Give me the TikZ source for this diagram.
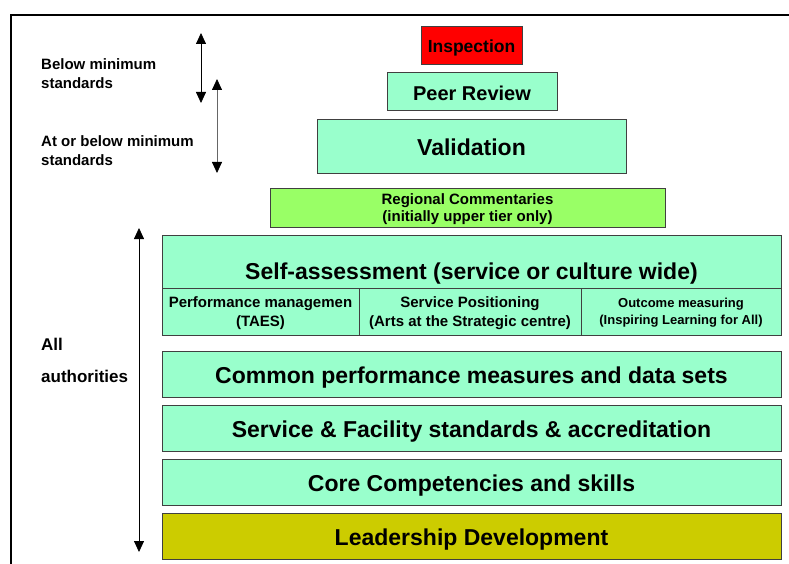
\documentclass[tikz,border=0pt]{standalone}
\usepackage{fontspec}
\setmainfont{Liberation Sans}
\usetikzlibrary{arrows.meta}

\definecolor{mint}{HTML}{99FFCC}
\definecolor{limegreen}{HTML}{99FF66}
\definecolor{leadyellow}{HTML}{CCCC00}
\definecolor{boxline}{HTML}{404040}

\newcommand{\fsz}[2]{\fontsize{#1pt}{#2pt}\selectfont}

\tikzset{
	tier/.style={draw=boxline, fill=mint, line width=0.9pt, inner sep=0pt,
		minimum width=619pt, minimum height=46pt, align=center,
		text height=18.4pt, text depth=0pt,
		font=\bfseries\fsz{23}{27}},
	subtier/.style={tier, minimum height=47pt, text height=, text depth=-9pt,
		font=\bfseries\fsz{15}{19}},
	lefttext/.style={anchor=west, align=left, inner sep=0pt, font=\bfseries\fsz{15}{19}},
	span/.style={line width=0.8pt, {Triangle[width=10pt,length=11pt]}-{Triangle[width=10pt,length=11pt]}}
}

\begin{document}
\begin{tikzpicture}[x=1pt, y=-1pt]
	\useasboundingbox (0,0) rectangle (789,564);
	% frame
	\draw[line width=2pt] (11,564) |- (789,15);

	% top of the pyramid
	\node (insp) [tier, fill=red, minimum width=101pt, minimum height=38pt, text height=14.6pt,
		font=\bfseries\fsz{17.5}{20}] at (471.5,45) {Inspection};
	\node (peer) [tier, minimum width=170pt, minimum height=38pt,
		font=\bfseries\fsz{20}{24}] at (472,91) {Peer Review};
	\node (valid) [tier, minimum width=309pt, minimum height=54pt] at (471.5,146) {Validation};
	\node (region) [subtier, fill=limegreen, minimum width=395pt, minimum height=39pt, text depth=-7pt,
		font=\bfseries\fsz{15}{17}] at (467.5,207.5) {Regional Commentaries\\(initially upper tier only)};

	% self-assessment block
	\node (self) [tier, minimum height=53pt, text height=36.4pt] at (471.5,261.5) {Self-assessment (service or culture wide)};
	\node (perf) [subtier, minimum width=197pt] at (260.5,311.5) {Performance managemen\\(TAES)};
	\node (posit) [subtier, minimum width=222pt] at (470,311.5) {Service Positioning\\(Arts at the Strategic centre)};
	\node (outc) [subtier, minimum width=200pt, font=\bfseries\fsz{13}{17}] at (681,311.5) {Outcome measuring\\(Inspiring Learning for All)};

	% foundations
	\node (common) [tier] at (471.5,374) {Common performance measures and data sets};
	\node (facil) [tier] at (471.5,428) {Service \& Facility standards \& accreditation};
	\node (core) [tier] at (471.5,482) {Core Competencies and skills};
	\node (lead) [tier, fill=leadyellow] at (471.5,536) {Leadership Development};

	% left hand labels
	\node (below) [lefttext] at (41,73.5) {Below minimum\\standards};
	\node (atbelow) [lefttext] at (41,151) {At or below minimum\\standards};
	\node (all) [lefttext, font=\bfseries\fsz{17}{32}] at (41,360) {All\\authorities};

	\coordinate (b1) at (201,33);
	\coordinate (b2) at (201,103);
	\coordinate (a1) at (217,79);
	\coordinate (a2) at (217,173);
	\coordinate (r1) at (139,228);
	\coordinate (r2) at (139,552);
	\draw [span] (b1) -- (b2);
	\draw [span, draw=black!60, {Triangle[width=10pt,length=11pt,color=black]}-{Triangle[width=10pt,length=11pt,color=black]}] (a1) -- (a2);
	\draw [span] (r1) -- (r2);
\end{tikzpicture}
\end{document}
